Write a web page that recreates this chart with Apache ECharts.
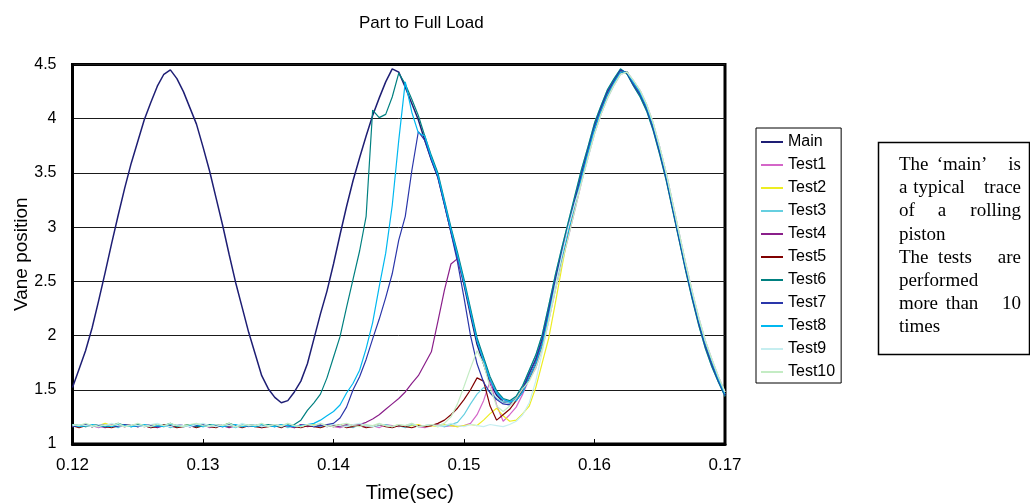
<!DOCTYPE html>
<html>
<head>
<meta charset="utf-8">
<script src="https://cdn.jsdelivr.net/npm/echarts@6/dist/echarts.min.js"></script>
<style>html,body{margin:0;padding:0;background:#fff;}#c{width:1030px;height:504px;}</style>
</head>
<body>
<div id="c"></div>
<script>
// Time grid (sec)
const time = [0.1200,0.1205,0.1210,0.1215,0.1220,0.1225,0.1230,0.1235,0.1240,0.1245,
0.1250,0.1255,0.1260,0.1265,0.1270,0.1275,0.1280,0.1285,0.1290,0.1295,
0.1300,0.1305,0.1310,0.1315,0.1320,0.1325,0.1330,0.1335,0.1340,0.1345,
0.1350,0.1355,0.1360,0.1365,0.1370,0.1375,0.1380,0.1385,0.1390,0.1395,
0.1400,0.1405,0.1410,0.1415,0.1420,0.1425,0.1430,0.1435,0.1440,0.1445,
0.1450,0.1455,0.1460,0.1465,0.1470,0.1475,0.1480,0.1485,0.1490,0.1495,
0.1500,0.1505,0.1510,0.1515,0.1520,0.1525,0.1530,0.1535,0.1540,0.1545,
0.1550,0.1555,0.1560,0.1565,0.1570,0.1575,0.1580,0.1585,0.1590,0.1595,
0.1600,0.1605,0.1610,0.1615,0.1620,0.1625,0.1630,0.1635,0.1640,0.1645,
0.1650,0.1655,0.1660,0.1665,0.1670,0.1675,0.1680,0.1685,0.1690,0.1695,
0.1700];

const seriesNames = ['Main','Test1','Test2','Test3','Test4','Test5','Test6','Test7','Test8','Test9','Test10'];

const main = [1.52,1.69,1.86,2.07,2.32,2.58,2.85,3.11,3.36,3.59,
3.79,3.99,4.15,4.30,4.41,4.45,4.37,4.25,4.10,3.95,
3.74,3.52,3.27,3.02,2.75,2.49,2.26,2.03,1.83,1.63,
1.51,1.43,1.38,1.40,1.48,1.58,1.74,1.97,2.20,2.41,
2.66,2.93,3.19,3.43,3.64,3.84,4.03,4.19,4.34,4.46,
4.43,4.29,4.14,3.99,3.80,3.62,3.46,3.21,2.96,2.72,
2.47,2.19,1.92,1.74,1.56,1.45,1.39,1.38,1.42,1.51,
1.65,1.78,1.97,2.24,2.52,2.77,3.01,3.25,3.49,3.71,
3.93,4.10,4.25,4.35,4.45,4.42,4.31,4.22,4.09,3.91,
3.69,3.45,3.17,2.89,2.61,2.35,2.11,1.90,1.73,1.58,
1.45];

const test1 = [1.17,1.16,1.18,1.17,1.15,1.17,1.18,1.16,1.17,1.18,
1.16,1.17,1.15,1.18,1.17,1.16,1.18,1.17,1.16,1.17,
1.18,1.15,1.17,1.16,1.18,1.17,1.17,1.16,1.18,1.15,
1.17,1.18,1.16,1.17,1.15,1.18,1.17,1.16,1.17,1.18,
1.16,1.15,1.17,1.18,1.17,1.16,1.17,1.15,1.18,1.17,
1.16,1.17,1.18,1.16,1.15,1.17,1.18,1.16,1.17,1.16,
1.17,1.19,1.27,1.40,1.58,1.36,1.21,1.27,1.34,1.46,
1.60,1.70,1.88,2.14,2.42,2.67,2.91,3.16,3.41,3.64,
3.86,4.04,4.19,4.31,4.41,4.43,4.35,4.26,4.13,3.96,
3.74,3.50,3.22,2.94,2.66,2.40,2.16,1.95,1.78,1.62,
1.48];

const test2 = [1.16,1.18,1.17,1.16,1.17,1.19,1.17,1.16,1.18,1.17,
1.17,1.16,1.18,1.17,1.16,1.18,1.16,1.17,1.18,1.16,
1.17,1.18,1.16,1.17,1.19,1.16,1.17,1.18,1.17,1.16,
1.18,1.17,1.16,1.18,1.17,1.16,1.17,1.18,1.16,1.17,
1.17,1.18,1.16,1.17,1.18,1.17,1.16,1.18,1.17,1.16,
1.18,1.16,1.17,1.18,1.16,1.17,1.16,1.18,1.17,1.16,
1.17,1.18,1.17,1.22,1.28,1.33,1.26,1.21,1.22,1.28,
1.35,1.52,1.75,1.98,2.30,2.63,2.95,3.20,3.45,3.68,
3.90,4.07,4.22,4.33,4.43,4.43,4.33,4.24,4.11,3.94,
3.72,3.48,3.20,2.92,2.64,2.38,2.14,1.93,1.76,1.60,
1.46];

const test3 = [1.18,1.17,1.16,1.18,1.17,1.16,1.17,1.15,1.18,1.16,
1.17,1.18,1.16,1.17,1.18,1.15,1.17,1.16,1.18,1.17,
1.16,1.17,1.18,1.16,1.17,1.15,1.18,1.17,1.16,1.18,
1.17,1.16,1.18,1.15,1.17,1.16,1.18,1.17,1.16,1.17,
1.18,1.16,1.17,1.15,1.18,1.17,1.16,1.17,1.18,1.16,
1.17,1.15,1.18,1.16,1.17,1.18,1.17,1.16,1.18,1.20,
1.27,1.37,1.46,1.52,1.48,1.42,1.39,1.38,1.44,1.54,
1.68,1.82,2.01,2.28,2.56,2.81,3.05,3.29,3.53,3.74,
3.96,4.12,4.27,4.37,4.46,4.41,4.30,4.20,4.07,3.89,
3.67,3.43,3.15,2.87,2.59,2.33,2.09,1.88,1.71,1.57,
1.44];

const test4 = [1.16,1.17,1.18,1.16,1.17,1.15,1.17,1.18,1.16,1.17,
1.18,1.16,1.17,1.15,1.17,1.18,1.16,1.17,1.16,1.18,
1.17,1.16,1.18,1.17,1.15,1.17,1.16,1.18,1.17,1.16,
1.17,1.18,1.16,1.17,1.15,1.18,1.16,1.17,1.18,1.16,
1.17,1.16,1.18,1.17,1.18,1.20,1.23,1.27,1.32,1.37,
1.42,1.48,1.56,1.63,1.74,1.85,2.13,2.42,2.66,2.71,
2.49,2.22,1.95,1.77,1.59,1.47,1.41,1.39,1.40,1.48,
1.61,1.74,1.92,2.19,2.47,2.72,2.96,3.21,3.45,3.68,
3.90,4.07,4.22,4.33,4.43,4.43,4.33,4.24,4.11,3.94,
3.72,3.48,3.20,2.92,2.64,2.38,2.14,1.93,1.76,1.60,
1.46];

const test5 = [1.17,1.15,1.17,1.16,1.18,1.16,1.15,1.17,1.16,1.18,
1.16,1.17,1.15,1.16,1.18,1.17,1.15,1.16,1.17,1.15,
1.17,1.16,1.15,1.18,1.16,1.17,1.15,1.17,1.16,1.15,
1.16,1.17,1.15,1.18,1.16,1.15,1.17,1.16,1.15,1.17,
1.16,1.18,1.15,1.16,1.17,1.15,1.16,1.18,1.16,1.15,
1.17,1.16,1.15,1.17,1.16,1.17,1.19,1.22,1.27,1.33,
1.41,1.50,1.61,1.58,1.35,1.22,1.27,1.32,1.40,1.50,
1.61,1.74,1.92,2.19,2.47,2.72,2.96,3.21,3.45,3.68,
3.90,4.07,4.22,4.33,4.43,4.43,4.33,4.24,4.11,3.94,
3.72,3.48,3.20,2.92,2.64,2.38,2.14,1.93,1.76,1.60,
1.46];

const test6 = [1.17,1.18,1.16,1.17,1.18,1.16,1.17,1.19,1.17,1.16,
1.18,1.17,1.16,1.18,1.17,1.19,1.16,1.17,1.18,1.16,
1.17,1.18,1.16,1.17,1.19,1.17,1.16,1.18,1.17,1.16,
1.18,1.17,1.16,1.18,1.18,1.22,1.31,1.38,1.46,1.61,
1.80,1.99,2.26,2.52,2.78,3.10,4.08,4.01,4.04,4.20,
4.42,4.32,4.18,4.03,3.84,3.66,3.50,3.25,3.00,2.77,
2.52,2.25,1.98,1.80,1.62,1.49,1.42,1.40,1.44,1.54,
1.68,1.82,2.01,2.28,2.56,2.81,3.05,3.29,3.53,3.74,
3.96,4.12,4.27,4.37,4.46,4.41,4.30,4.20,4.07,3.89,
3.67,3.43,3.15,2.87,2.59,2.33,2.09,1.88,1.71,1.57,
1.44];

const test7 = [1.16,1.17,1.18,1.16,1.17,1.18,1.17,1.16,1.18,1.17,
1.16,1.17,1.18,1.16,1.17,1.16,1.18,1.17,1.16,1.17,
1.18,1.16,1.17,1.16,1.18,1.17,1.16,1.17,1.18,1.16,
1.17,1.16,1.18,1.17,1.16,1.17,1.18,1.16,1.17,1.18,
1.19,1.24,1.34,1.50,1.62,1.78,1.97,2.15,2.35,2.57,
2.88,3.10,3.52,3.88,3.80,3.62,3.46,3.21,2.95,2.68,
2.35,2.00,1.74,1.57,1.47,1.41,1.37,1.36,1.42,1.51,
1.65,1.78,1.97,2.24,2.52,2.77,3.01,3.25,3.49,3.71,
3.93,4.10,4.25,4.35,4.45,4.42,4.31,4.22,4.09,3.91,
3.69,3.45,3.17,2.89,2.61,2.35,2.11,1.90,1.73,1.58,
1.45];

const test8 = [1.18,1.16,1.17,1.18,1.16,1.17,1.16,1.18,1.17,1.16,
1.17,1.18,1.16,1.17,1.16,1.18,1.17,1.16,1.17,1.18,
1.16,1.17,1.18,1.16,1.17,1.18,1.16,1.17,1.16,1.18,
1.17,1.16,1.18,1.17,1.16,1.17,1.18,1.19,1.22,1.26,
1.30,1.36,1.47,1.56,1.68,1.88,2.12,2.45,2.76,3.20,
3.80,4.34,4.06,3.87,3.84,3.64,3.48,3.23,2.98,2.74,
2.49,2.22,1.95,1.77,1.59,1.47,1.41,1.39,1.40,1.48,
1.61,1.74,1.92,2.19,2.47,2.72,2.96,3.21,3.45,3.68,
3.90,4.07,4.22,4.33,4.43,4.43,4.33,4.24,4.11,3.94,
3.72,3.48,3.20,2.92,2.64,2.38,2.14,1.93,1.76,1.60,
1.46];

const test9 = [1.17,1.18,1.17,1.16,1.18,1.17,1.19,1.17,1.16,1.18,
1.17,1.16,1.18,1.19,1.17,1.16,1.18,1.17,1.16,1.18,
1.19,1.17,1.16,1.18,1.17,1.16,1.19,1.17,1.18,1.16,
1.17,1.18,1.16,1.19,1.17,1.16,1.18,1.17,1.19,1.16,
1.18,1.17,1.16,1.18,1.19,1.17,1.16,1.18,1.17,1.16,
1.18,1.17,1.19,1.16,1.17,1.18,1.16,1.17,1.19,1.17,
1.16,1.18,1.17,1.16,1.18,1.17,1.16,1.18,1.21,1.27,
1.38,1.58,1.85,2.15,2.46,2.74,3.00,3.22,3.41,3.64,
3.86,4.04,4.19,4.31,4.41,4.43,4.35,4.26,4.13,3.96,
3.74,3.50,3.22,2.94,2.66,2.40,2.16,1.95,1.78,1.62,
1.48];

const test10 = [1.18,1.17,1.19,1.17,1.16,1.18,1.17,1.19,1.16,1.17,
1.19,1.17,1.16,1.18,1.17,1.19,1.17,1.16,1.18,1.19,
1.17,1.16,1.18,1.17,1.19,1.16,1.17,1.18,1.17,1.19,
1.16,1.18,1.17,1.19,1.17,1.16,1.18,1.17,1.19,1.17,
1.16,1.18,1.19,1.17,1.16,1.18,1.17,1.19,1.17,1.16,
1.18,1.17,1.19,1.16,1.17,1.18,1.17,1.19,1.25,1.37,
1.53,1.70,1.86,1.74,1.52,1.35,1.30,1.35,1.42,1.51,
1.58,1.70,1.88,2.14,2.42,2.67,2.91,3.16,3.41,3.64,
3.86,4.04,4.19,4.31,4.41,4.43,4.35,4.26,4.13,3.96,
3.74,3.50,3.22,2.94,2.66,2.40,2.16,1.95,1.78,1.62,
1.48];

const xTicks = [0.12,0.13,0.14,0.15,0.16,0.17];
const yTicks = [1,1.5,2,2.5,3,3.5,4,4.5];

const noteLines = [
  ['The','‘main’','is'],
  ['a','typical','trace'],
  ['of','a','rolling'],
  ['piston'],
  ['The','tests','are'],
  ['performed'],
  ['more','than','10'],
  ['times']
];

const allValues = [main,test1,test2,test3,test4,test5,test6,test7,test8,test9,test10];
const colors = ['#1e1e74','#d466c8','#eded22','#66cfe0','#8a1f8a','#800000','#008080','#2a36aa','#00b8f0','#c6eef0','#c4ecc4'];

const sans = '"Liberation Sans", Arial, sans-serif';
const serif = '"Liberation Serif", "Times New Roman", serif';

const chart = echarts.init(document.getElementById('c'), null, {renderer: 'canvas'});

const series = seriesNames.map((name, i) => ({
  name: name,
  type: 'line',
  symbol: 'none',
  showSymbol: false,
  data: time.map((t, j) => [t, allValues[i][j]]),
  lineStyle: {width: i === 0 ? 1.5 : 1.2, color: colors[i]},
  itemStyle: {color: colors[i]},
  z: 2
}));

// text box graphic
const graphics = [{
  type: 'rect',
  shape: {x: 878.5, y: 142.5, width: 151, height: 212},
  style: {fill: '#fff', stroke: '#000', lineWidth: 1.5},
  z: 10
}];
const lineY0 = 165, lineDY = 23.2, leftX = 899, rightX = 1021;
const midPos = [962, 939, 942, null, 955, null, 962, null];
const tStyle = (text, x, y, al) => ({text: text, x: x, y: y, font: '19px ' + serif, fill: '#000',
  textAlign: al, textVerticalAlign: 'middle', align: al, verticalAlign: 'middle'});
noteLines.forEach((words, li) => {
  const y = lineY0 + li * lineDY;
  graphics.push({type: 'text', z: 11, style: tStyle(words[0], leftX, y, 'left')});
  if (words.length > 1) {
    graphics.push({type: 'text', z: 11, style: tStyle(words[1], midPos[li], y, 'center')});
    graphics.push({type: 'text', z: 11, style: tStyle(words[2], rightX, y, 'right')});
  }
});

chart.setOption({
  animation: false,
  backgroundColor: '#fff',
  title: {
    text: 'Part to Full Load',
    left: 354, top: 10,
    textStyle: {fontFamily: sans, fontSize: 17, fontWeight: 'normal', color: '#000'}
  },
  legend: {
    data: seriesNames,
    orient: 'vertical',
    left: 756, top: 128,
    itemWidth: 22, itemHeight: 14, itemGap: 7,
    padding: [6, 6, 3, 4],
    borderColor: '#000', borderWidth: 1,
    backgroundColor: '#fff',
    itemStyle: {opacity: 0},
    textStyle: {fontFamily: sans, fontSize: 16, color: '#000'},
    selectedMode: false
  },
  grid: {
    left: 72.5, right: 305, top: 64.5, bottom: 60,
    outerBoundsMode: 'none', containLabel: false,
    show: true, borderColor: '#000', borderWidth: 3, backgroundColor: 'transparent'
  },
  xAxis: {
    type: 'value',
    min: xTicks[0], max: xTicks[xTicks.length - 1], interval: 0.01,
    name: 'Time(sec)', nameLocation: 'middle', nameGap: 39, nameMoveOverlap: false,
    nameTextStyle: {fontFamily: sans, fontSize: 20, color: '#000', padding: [0, 0, 0, 22]},
    axisLine: {show: true, lineStyle: {color: '#000', width: 3}},
    axisTick: {show: true, inside: true, length: 5, lineStyle: {color: '#000', width: 1}},
    axisLabel: {fontFamily: sans, fontSize: 17, color: '#000', margin: 13, formatter: v => {
      const t = xTicks.find(x => Math.abs(x - v) < 1e-6);
      return t === undefined ? '' : t.toFixed(2);
    }},
    splitLine: {show: false}
  },
  yAxis: {
    type: 'value',
    min: yTicks[0], max: yTicks[yTicks.length - 1], interval: 0.5,
    name: 'Vane position', nameLocation: 'middle', nameGap: 41, nameRotate: 90, nameMoveOverlap: false,
    nameTextStyle: {fontFamily: sans, fontSize: 19, color: '#000'},
    axisLine: {show: true, lineStyle: {color: '#000', width: 3}},
    axisTick: {show: false},
    axisLabel: {fontFamily: sans, fontSize: 16, color: '#000', margin: 16},
    splitLine: {show: true, lineStyle: {color: '#1a1a1a', width: 1}}
  },
  graphic: graphics,
  series: series
});
</script>
</body>
</html>
